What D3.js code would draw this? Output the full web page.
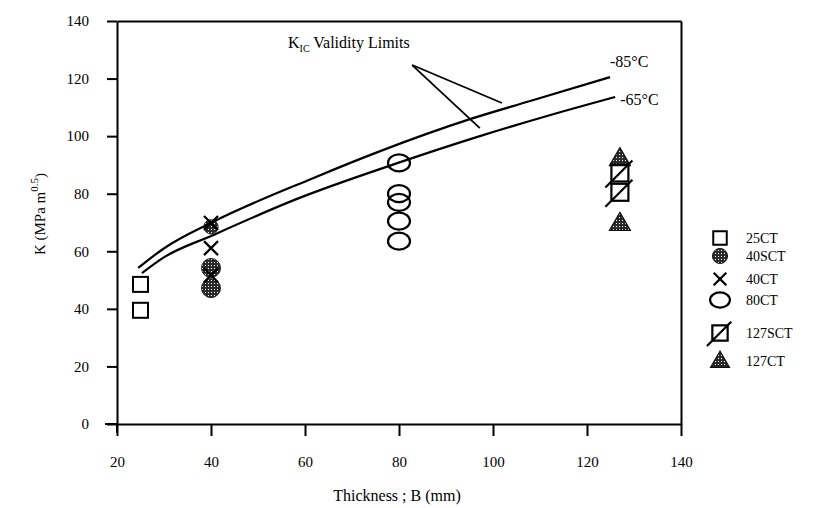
<!DOCTYPE html>
<head>
  <meta charset="utf-8" />
  <script src="https://d3js.org/d3.v7.min.js"></script>
  <style>
    body { margin: 0; background: #fff; }
    text { font-family: "Liberation Serif", "DejaVu Serif", serif; fill: #000; }
    .axis path, .axis line { stroke: #000; stroke-width: 2px; }
    .axis text { font-size: 15px; font-family: "Liberation Serif", serif; }
  </style>
</head>
<body>
<script>
  // tick values
  var xTicks = [20, 40, 60, 80, 100, 120, 140];
  var yTicks = [0, 20, 40, 60, 80, 100, 120, 140];

  // test series: name, thickness B (mm), K values (MPa m^0.5)
  var seriesNames = ["25CT", "40SCT", "40CT", "80CT", "127SCT", "127CT"];
  var seriesB = [25, 40, 40, 80, 127, 127];
  var k25CT = [48.5, 39.5];
  var k40SCT = [68.5, 54.2, 47.2];
  var k40CT = [69.8, 61.1, 51.7];
  var k80CT = [90.7, 80, 77, 70.5, 63.5];
  var k127SCT = [87.2, 80.5];
  var k127CT = [92.2, 69.7];
  var seriesK = [k25CT, k40SCT, k40CT, k80CT, k127SCT, k127CT];

  // KIC validity limit curves
  var limitB85 = [24.5, 29.8, 40.4, 61.7, 76.0, 95.1, 107.9, 124.9];
  var limitK85 = [54.2, 60.8, 70.2, 85.4, 94.8, 105.9, 112.2, 120.5];
  var limitB65 = [25.3, 29.8, 40.4, 58.3, 79.8, 97.2, 111.5, 126.0];
  var limitK65 = [52.4, 57.7, 65.6, 78.2, 90.7, 100.0, 107.0, 113.6];

  var width = 824, height = 508;
  var margin = {left: 117, right: 143, top: 21, bottom: 84};

  var svg = d3.select("body").append("svg")
    .attr("width", width).attr("height", height);

  // stipple fill like the scanned grey markers
  var defs = svg.append("defs");
  var pat = defs.append("pattern").attr("id", "stip")
    .attr("width", 3).attr("height", 3).attr("patternUnits", "userSpaceOnUse");
  pat.append("rect").attr("width", 3).attr("height", 3).attr("fill", "#2a2a2a");
  pat.append("rect").attr("x", 1).attr("y", 1).attr("width", 1).attr("height", 1).attr("fill", "#fff");

  var x = d3.scaleLinear().domain([20, 140]).range([margin.left, width - margin.right]);
  var y = d3.scaleLinear().domain([0, 140]).range([height - margin.bottom, margin.top]);

  // axes
  svg.append("g").attr("class", "axis")
    .attr("transform", "translate(0," + y(0) + ")")
    .call(d3.axisBottom(x).tickValues(xTicks).tickSizeInner(12).tickSizeOuter(0).tickPadding(20));
  svg.append("g").attr("class", "axis")
    .attr("transform", "translate(" + x(20) + ",0)")
    .call(d3.axisLeft(y).tickValues(yTicks).tickSizeInner(10).tickSizeOuter(0).tickPadding(18));
  svg.append("g").attr("class", "axis")
    .attr("transform", "translate(0," + y(140) + ")")
    .call(d3.axisBottom(x).tickValues([]).tickSizeOuter(0));
  svg.append("g").attr("class", "axis")
    .attr("transform", "translate(" + x(140) + ",0)")
    .call(d3.axisLeft(y).tickValues([]).tickSizeOuter(0));
  // small overhangs of the axis lines at the origin
  svg.append("line").attr("x1", x(20) - 12).attr("x2", x(20))
    .attr("y1", y(0)).attr("y2", y(0)).attr("stroke", "#000").attr("stroke-width", 2);
  svg.append("line").attr("x1", x(20)).attr("x2", x(20))
    .attr("y1", y(0)).attr("y2", y(0) + 9).attr("stroke", "#000").attr("stroke-width", 2);

  // axis titles
  svg.append("text").attr("x", 397).attr("y", 501)
    .attr("text-anchor", "middle").style("font-size", "16px")
    .text("Thickness ; B  (mm)");
  var yl = svg.append("text")
    .attr("transform", "translate(45,214) rotate(-90)")
    .attr("text-anchor", "middle").style("font-size", "15px");
  yl.append("tspan").text("K (MPa m");
  yl.append("tspan").attr("dy", -7).style("font-size", "11px").text("0.5");
  yl.append("tspan").attr("dy", 7).text(")");

  // marker drawing
  function drawMarker(g, name, px, py, s) {
    var k = s || 1;
    if (name == "25CT") {
      g.append("rect").attr("x", px - 7.5 * k).attr("y", py - 7.5 * k)
        .attr("width", 15 * k).attr("height", 15 * k)
        .attr("fill", "none").attr("stroke", "#000").attr("stroke-width", 2);
    } else if (name == "40SCT") {
      g.append("circle").attr("cx", px).attr("cy", py).attr("r", 9.5 * k)
        .attr("fill", "url(#stip)").attr("stroke", "#222").attr("stroke-width", 1);
    } else if (name == "40CT") {
      var a = 7 * k;
      g.append("path").attr("d", "M" + (px - a) + "," + (py - a) + "L" + (px + a) + "," + (py + a) +
          "M" + (px + a) + "," + (py - a) + "L" + (px - a) + "," + (py + a))
        .attr("stroke", "#000").attr("stroke-width", 2.2).attr("fill", "none");
    } else if (name == "80CT") {
      g.append("ellipse").attr("cx", px).attr("cy", py).attr("rx", 11 * k).attr("ry", 8.5 * k)
        .attr("fill", "none").attr("stroke", "#000").attr("stroke-width", 2.2);
    } else if (name == "127SCT") {
      var h = 8.5 * k;
      g.append("rect").attr("x", px - h).attr("y", py - h).attr("width", 2 * h).attr("height", 2 * h)
        .attr("fill", "none").attr("stroke", "#000").attr("stroke-width", 2.2);
      g.append("line").attr("x1", px - h - 6 * k).attr("y1", py + h + 6 * k)
        .attr("x2", px + h + 4 * k).attr("y2", py - h - 4 * k)
        .attr("stroke", "#000").attr("stroke-width", 2.2);
    } else if (name == "127CT") {
      var w = 10.5 * k;
      g.append("path").attr("d", "M" + px + "," + (py - 11 * k) + "L" + (px + w) + "," + (py + 7 * k) +
          "L" + (px - w) + "," + (py + 7 * k) + "Z")
        .attr("fill", "url(#stip)").attr("stroke", "#111").attr("stroke-width", 1.2);
    }
  }

  // data markers (filled ones first, open ones on top)
  var marks = svg.append("g");
  var order = [1, 5, 0, 2, 3, 4];
  order.forEach(function (i) {
    seriesK[i].forEach(function (kv, j) {
      // the 40SCT point hidden behind the top cross shows only partly
      var s = (i == 1 && j == 0) ? 0.75 : 1;
      drawMarker(marks, seriesNames[i], x(seriesB[i]), y(kv), s);
    });
  });

  // validity limit curves
  var line = d3.line().x(function (d) { return x(d[0]); }).y(function (d) { return y(d[1]); })
    .curve(d3.curveMonotoneX);
  var c85 = limitB85.map(function (b, i) { return [b, limitK85[i]]; });
  var c65 = limitB65.map(function (b, i) { return [b, limitK65[i]]; });
  [c85, c65].forEach(function (c) {
    svg.append("path").datum(c).attr("d", line)
      .attr("fill", "none").attr("stroke", "#000").attr("stroke-width", 2.2);
  });

  svg.append("text").attr("x", x(124.9)).attr("y", y(120.5) - 10).style("font-size", "16px").text("-85°C");
  svg.append("text").attr("x", x(126.0) + 5).attr("y", y(113.6) + 8).style("font-size", "16px").text("-65°C");

  // KIC annotation with leaders
  var kt = svg.append("text").attr("x", 288).attr("y", 48).style("font-size", "16px");
  kt.append("tspan").text("K");
  kt.append("tspan").attr("dy", 4).style("font-size", "10px").text("IC");
  kt.append("tspan").attr("dy", -4).text(" Validity Limits");
  var apex = [x(82.8), y(124.7)];
  [[x(101.9), y(111.5)], [x(97.2), y(102.8)]].forEach(function (p) {
    svg.append("line").attr("x1", apex[0]).attr("y1", apex[1]).attr("x2", p[0]).attr("y2", p[1])
      .attr("stroke", "#000").attr("stroke-width", 1.8);
  });

  // legend
  var legendY = [238, 256, 279, 300, 333, 361];
  var lg = svg.append("g");
  seriesNames.forEach(function (n, i) {
    drawMarker(lg, n, 720, legendY[i], n == "40SCT" ? 0.8 : 0.9);
    lg.append("text").attr("x", 746).attr("y", legendY[i] + 5)
      .style("font-size", "14px").text(n);
  });
</script>
</body>
